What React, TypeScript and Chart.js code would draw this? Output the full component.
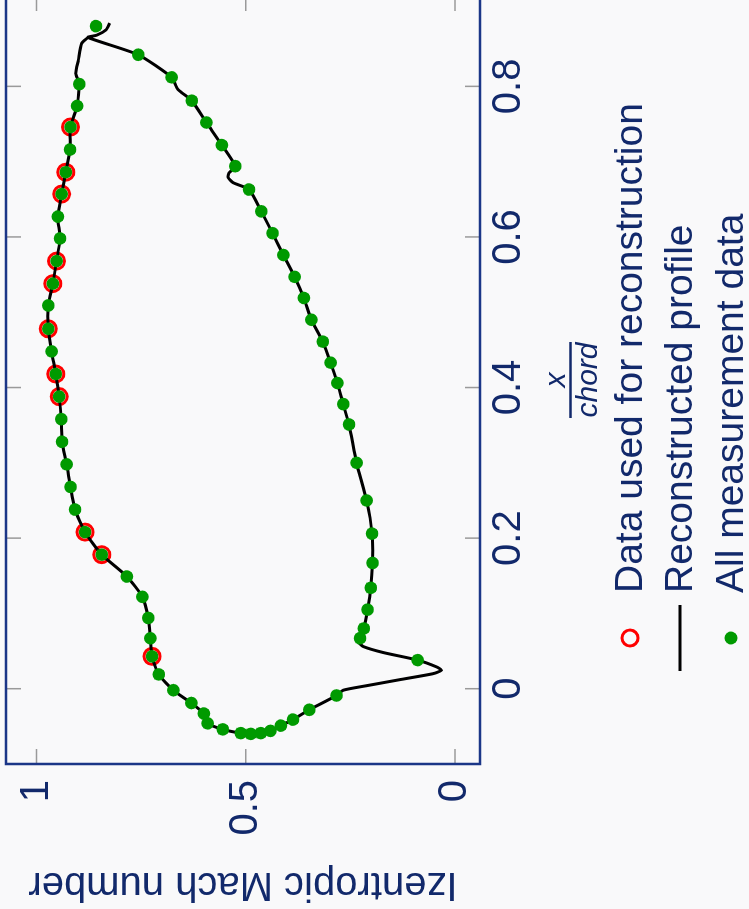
import React, { useEffect, useRef } from 'react';
import { Chart, registerables } from 'chart.js';
Chart.register(...registerables);

const FONT = "'Liberation Sans', Arial, sans-serif";
const TEXT = '#12296b';
const FRAME = '#1b3687';
const BG = '#f9f9fa';
const GREEN = '#009a00';
const RED = '#ff0000';

const xTickValues = [0, 0.2, 0.4, 0.6, 0.8];
const xTickLabels = ['0', '0.2', '0.4', '0.6', '0.8'];
const yTickValues = [0, 0.5, 1];
const yTickLabels = ['0', '0.5', '1'];

const legendLabels = ['Data used for reconstruction', 'Reconstructed profile', 'All measurement data'];
const yTitle = 'Izentropic Mach number';
const xTitleNum = 'x';
const xTitleDen = 'chord';

// All measurement data — suction side (trailing edge -> leading edge)
const suctionChord = [0.880, 0.803, 0.774, 0.746, 0.716, 0.686, 0.657, 0.627, 0.598, 0.568, 0.538, 0.509, 0.478, 0.448, 0.418, 0.388, 0.358, 0.328, 0.298, 0.268, 0.238, 0.208, 0.178, 0.149, 0.122, 0.094, 0.067, 0.043, 0.019, -0.002, -0.019, -0.033, -0.046, -0.054, -0.059, -0.060, -0.059, -0.056, -0.049, -0.041, -0.028, -0.009];
const suctionMach = [0.858, 0.898, 0.903, 0.919, 0.920, 0.930, 0.940, 0.949, 0.944, 0.952, 0.961, 0.972, 0.972, 0.964, 0.954, 0.946, 0.941, 0.939, 0.928, 0.919, 0.908, 0.884, 0.844, 0.784, 0.747, 0.733, 0.728, 0.724, 0.708, 0.673, 0.630, 0.600, 0.591, 0.555, 0.512, 0.488, 0.464, 0.441, 0.416, 0.387, 0.348, 0.283];

// All measurement data — pressure side (trailing edge -> leading edge)
const pressureChord = [0.842, 0.812, 0.781, 0.752, 0.722, 0.694, 0.663, 0.634, 0.605, 0.576, 0.547, 0.519, 0.490, 0.461, 0.433, 0.406, 0.378, 0.351, 0.300, 0.250, 0.206, 0.167, 0.134, 0.105, 0.080, 0.067, 0.038];
const pressureMach = [0.757, 0.677, 0.629, 0.594, 0.557, 0.525, 0.492, 0.463, 0.436, 0.410, 0.383, 0.361, 0.343, 0.316, 0.297, 0.281, 0.267, 0.253, 0.235, 0.211, 0.198, 0.197, 0.201, 0.209, 0.218, 0.227, 0.089];

// Data used for reconstruction
const usedChord = [0.746, 0.686, 0.657, 0.568, 0.538, 0.478, 0.418, 0.388, 0.208, 0.178, 0.043];
const usedMach = [0.919, 0.930, 0.940, 0.952, 0.961, 0.972, 0.954, 0.946, 0.884, 0.844, 0.724];

// Reconstructed profile (traced path: TE hook -> pressure side -> LE spike -> suction side -> TE)
const profileChord = [0.884, 0.875, 0.868, 0.865,
  0.842, 0.812, 0.796, 0.781, 0.752, 0.722, 0.694, 0.685, 0.679, 0.672, 0.663, 0.634, 0.605, 0.576, 0.547, 0.519, 0.490, 0.461, 0.433, 0.406, 0.378, 0.351, 0.300, 0.250, 0.206, 0.167, 0.134, 0.105, 0.080, 0.067,
  0.061, 0.056, 0.048, 0.038, 0.029, 0.0245, 0.020, 0.012, 0.004, -0.002,
  -0.009, -0.028, -0.041, -0.049, -0.056, -0.059, -0.060, -0.059, -0.054, -0.046, -0.033, -0.019, -0.002, 0.019, 0.043, 0.067, 0.094, 0.122, 0.149, 0.178, 0.208, 0.238, 0.268, 0.298, 0.328, 0.358, 0.388, 0.418, 0.448, 0.478, 0.509, 0.538, 0.568, 0.598, 0.627, 0.657, 0.686, 0.716, 0.746, 0.774, 0.803,
  0.817, 0.835, 0.857, 0.865];
const profileMach = [0.825, 0.834, 0.856, 0.877,
  0.757, 0.677, 0.662, 0.629, 0.594, 0.557, 0.525, 0.540, 0.542, 0.530, 0.492, 0.463, 0.436, 0.410, 0.383, 0.361, 0.343, 0.316, 0.297, 0.281, 0.267, 0.253, 0.235, 0.211, 0.198, 0.197, 0.201, 0.209, 0.218, 0.227,
  0.229, 0.219, 0.171, 0.089, 0.044, 0.032, 0.052, 0.132, 0.211, 0.267,
  0.283, 0.348, 0.387, 0.416, 0.441, 0.464, 0.488, 0.512, 0.555, 0.591, 0.600, 0.630, 0.673, 0.708, 0.724, 0.728, 0.733, 0.747, 0.784, 0.844, 0.884, 0.908, 0.919, 0.928, 0.939, 0.941, 0.946, 0.954, 0.964, 0.972, 0.972, 0.961, 0.952, 0.944, 0.949, 0.940, 0.930, 0.920, 0.919, 0.903, 0.898,
  0.906, 0.900, 0.892, 0.877];

const zip = (xs: number[], ys: number[]) => xs.map((x, i) => ({ x, y: ys[i] }));

const decorPlugin = {
  id: 'decor',
  beforeDraw(chart: any) {
    const { ctx, width, height } = chart;
    ctx.save();
    ctx.fillStyle = BG;
    ctx.fillRect(0, 0, width, height);
    ctx.restore();
  },
  afterDraw(chart: any) {
    const { ctx, chartArea: a, scales } = chart;
    const xs = scales.x;
    const ys = scales.y;
    ctx.save();
    // inward tick marks on all four sides
    ctx.strokeStyle = '#9a9a9a';
    ctx.lineWidth = 1.5;
    ctx.beginPath();
    xTickValues.forEach((v) => {
      const px = xs.getPixelForValue(v);
      ctx.moveTo(px, a.bottom);
      ctx.lineTo(px, a.bottom - 15);
      ctx.moveTo(px, a.top);
      ctx.lineTo(px, a.top + 15);
    });
    yTickValues.forEach((v) => {
      const py = ys.getPixelForValue(v);
      ctx.moveTo(a.left, py);
      ctx.lineTo(a.left + 15, py);
      ctx.moveTo(a.right, py);
      ctx.lineTo(a.right - 15, py);
    });
    ctx.stroke();
    // frame
    ctx.strokeStyle = FRAME;
    ctx.lineWidth = 2.5;
    ctx.strokeRect(a.left, a.top, a.right - a.left, a.bottom - a.top);

    // x axis title as a fraction
    const cx = (a.left + a.right) / 2;
    ctx.fillStyle = TEXT;
    ctx.textAlign = 'center';
    ctx.textBaseline = 'alphabetic';
    ctx.font = `italic 30px ${FONT}`;
    ctx.fillText(xTitleNum, cx, a.bottom + 85);
    ctx.fillText(xTitleDen, cx, a.bottom + 117);
    ctx.strokeStyle = TEXT;
    ctx.lineWidth = 2.5;
    ctx.beginPath();
    ctx.moveTo(cx - 38, a.bottom + 90.5);
    ctx.lineTo(cx + 38, a.bottom + 90.5);
    ctx.stroke();

    // legend
    const mx = a.left + 126;
    const tx = a.left + 171;
    const rows = [a.bottom + 162, a.bottom + 212, a.bottom + 263];
    // red hollow circle
    ctx.strokeStyle = RED;
    ctx.lineWidth = 3;
    ctx.beginPath();
    ctx.arc(mx, rows[0] - 12, 8, 0, Math.PI * 2);
    ctx.stroke();
    // black line
    ctx.strokeStyle = '#000';
    ctx.lineWidth = 3;
    ctx.beginPath();
    ctx.moveTo(mx - 33, rows[1] - 12);
    ctx.lineTo(mx + 33, rows[1] - 12);
    ctx.stroke();
    // green dot
    ctx.fillStyle = GREEN;
    ctx.beginPath();
    ctx.arc(mx, rows[2] - 12, 6.5, 0, Math.PI * 2);
    ctx.fill();
    // texts
    ctx.fillStyle = TEXT;
    ctx.textAlign = 'left';
    ctx.font = `39px ${FONT}`;
    legendLabels.forEach((t, i) => ctx.fillText(t, tx, rows[i]));
    ctx.restore();
  },
};

export default function App() {
  const ref = useRef<HTMLCanvasElement>(null);
  useEffect(() => {
    const zeroPad = (s: any) => {
      s.paddingLeft = 0;
      s.paddingRight = 0;
      s.paddingTop = 0;
      s.paddingBottom = 0;
    };
    const chart = new Chart(ref.current as HTMLCanvasElement, {
      type: 'scatter',
      data: {
        datasets: [
          {
            label: legendLabels[2],
            data: [...zip(suctionChord, suctionMach), ...zip(pressureChord, pressureMach)],
            backgroundColor: GREEN,
            borderWidth: 0,
            pointRadius: 6.3,
            order: 1,
          },
          {
            label: legendLabels[1],
            data: zip(profileChord, profileMach),
            showLine: true,
            borderColor: '#000',
            borderWidth: 3,
            pointRadius: 0,
            tension: 0.2,
            fill: false,
            order: 2,
          },
          {
            label: legendLabels[0],
            data: zip(usedChord, usedMach),
            backgroundColor: 'rgba(0,0,0,0)',
            borderColor: RED,
            borderWidth: 3,
            pointRadius: 8,
            order: 3,
          },
        ],
      } as any,
      options: {
        responsive: false,
        animation: false,
        events: [],
        layout: { autoPadding: false, padding: { top: 6, right: 17, bottom: 0, left: 0 } },
        plugins: { legend: { display: false }, tooltip: { enabled: false } },
        scales: {
          x: {
            type: 'linear',
            min: -0.1,
            max: 0.92,
            afterBuildTicks: (s: any) => {
              s.ticks = xTickValues.map((v) => ({ value: v }));
            },
            afterFit: (s: any) => {
              s.height = 269;
              zeroPad(s);
            },
            grid: { display: false, drawTicks: false },
            border: { display: false },
            ticks: {
              callback: (_v: any, i: number) => xTickLabels[i],
              color: TEXT,
              font: { family: FONT, size: 40 },
              padding: 5,
              maxRotation: 0,
              minRotation: 0,
              autoSkip: false,
            },
          },
          y: {
            type: 'linear',
            min: -0.06,
            max: 1.073,
            afterBuildTicks: (s: any) => {
              s.ticks = yTickValues.map((v) => ({ value: v }));
            },
            afterFit: (s: any) => {
              s.width = 145;
              zeroPad(s);
            },
            grid: { display: false, drawTicks: false },
            border: { display: false },
            ticks: {
              callback: (_v: any, i: number) => yTickLabels[i],
              color: TEXT,
              font: { family: FONT, size: 40 },
              padding: 16,
              autoSkip: false,
            },
            title: {
              display: true,
              text: yTitle,
              color: TEXT,
              font: { family: FONT, size: 40 },
              padding: { top: 1, bottom: 0 },
            },
          },
        },
      } as any,
      plugins: [decorPlugin],
    });
    return () => chart.destroy();
  }, []);

  return (
    <div style={{ position: 'fixed', left: 0, top: 0, width: 749, height: 909, overflow: 'hidden', background: BG }}>
      <div
        style={{
          position: 'absolute',
          left: 0,
          top: 0,
          width: 930,
          height: 749,
          transformOrigin: '0 0',
          transform: 'translate(0px, 909px) rotate(-90deg)',
        }}
      >
        <canvas ref={ref} width={930} height={749} style={{ display: 'block', width: 930, height: 749 }} />
      </div>
    </div>
  );
}
